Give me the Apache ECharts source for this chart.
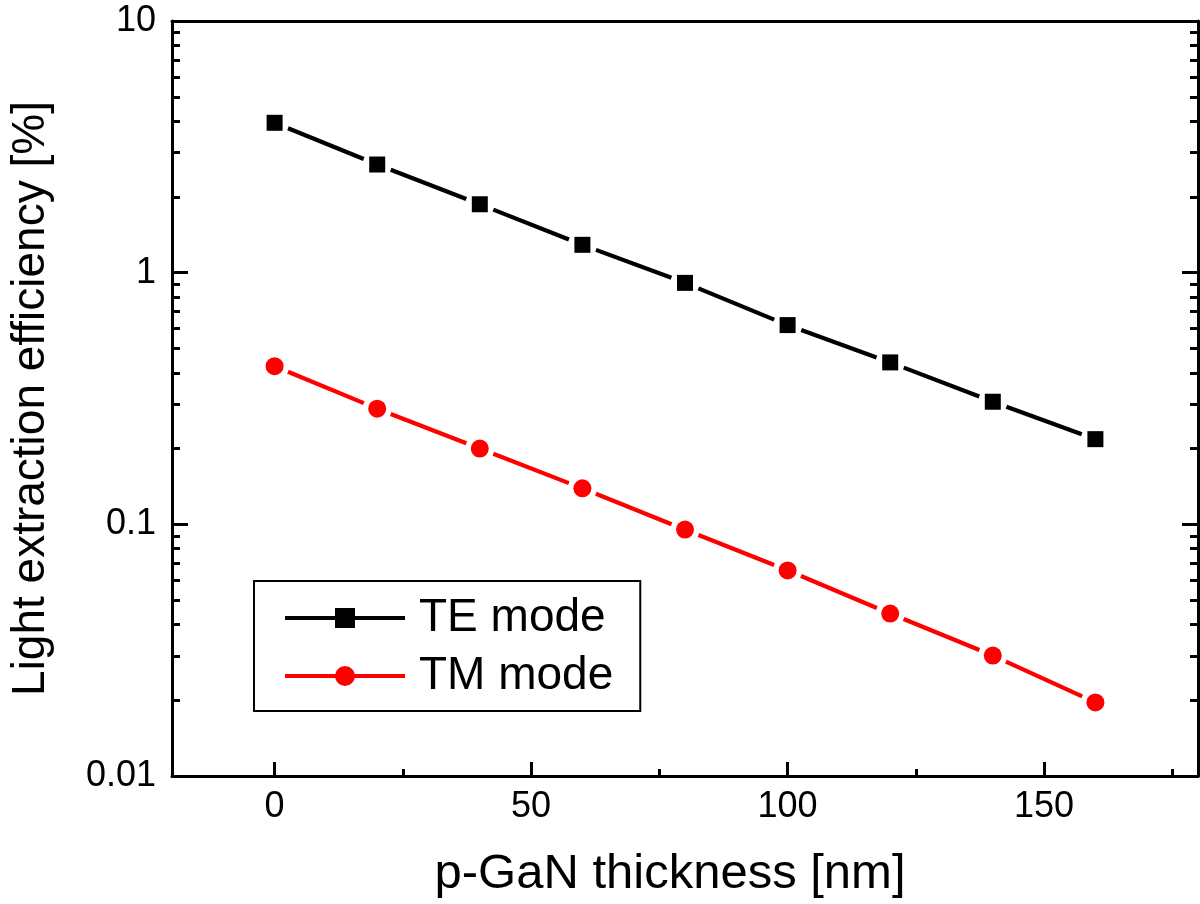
<!DOCTYPE html>
<html>
<head>
<meta charset="utf-8">
<script src="https://cdn.jsdelivr.net/npm/echarts@6/dist/echarts.min.js"></script>
<style>
html,body{margin:0;padding:0;background:#fff;}
#chart{width:1200px;height:904px;}
</style>
</head>
<body>
<div id="chart"></div>
<script>
// ---- data ----
const thickness = [0, 20, 40, 60, 80, 100, 120, 140, 160];
const teMode = [3.94, 2.69, 1.87, 1.29, 0.911, 0.619, 0.44, 0.307, 0.218];
const tmMode = [0.425, 0.288, 0.200, 0.139, 0.0953, 0.0656, 0.0442, 0.0301, 0.0196];
const seriesNames = ['TE mode', 'TM mode'];
const xMajorTicks = [0, 50, 100, 150];
const xMinorTicks = [25, 75, 125, 175];
const yMajorTicks = [0.01, 0.1, 1, 10];
const yMinorTicks = [0.02,0.03,0.04,0.05,0.06,0.07,0.08,0.09,0.2,0.3,0.4,0.5,0.6,0.7,0.8,0.9,2,3,4,5,6,7,8,9];

const FONT = "'Liberation Sans', Arial, Helvetica, sans-serif";
const GAP = 14.5;

function pairs(ys) {
  return thickness.map((x, i) => [x, ys[i]]);
}
function segments(ys) {
  const out = [];
  for (let i = 0; i < thickness.length - 1; i++) out.push([thickness[i], ys[i], thickness[i + 1], ys[i + 1]]);
  return out;
}
function gapLine(color) {
  return function (params, api) {
    const p1 = api.coord([api.value(0), api.value(1)]);
    const p2 = api.coord([api.value(2), api.value(3)]);
    const dx = p2[0] - p1[0], dy = p2[1] - p1[1];
    const L = Math.hypot(dx, dy);
    const ux = dx / L, uy = dy / L;
    return {
      type: 'line',
      shape: { x1: p1[0] + ux * GAP, y1: p1[1] + uy * GAP, x2: p2[0] - ux * GAP, y2: p2[1] - uy * GAP },
      style: { stroke: color, lineWidth: 4.2, lineCap: 'butt' }
    };
  };
}

const axisLineStyle = { color: '#000', width: 3 };
const xBase = { type: 'value', min: -20, max: 180, gridIndex: 0, splitLine: { show: false } };
const yBase = { type: 'log', logBase: 10, min: 0.01, max: 10, gridIndex: 0, splitLine: { show: false } };

const chart = echarts.init(document.getElementById('chart'), null, { renderer: 'canvas' });
chart.setOption({
  backgroundColor: '#fff',
  animation: false,
  grid: { left: 169, right: 2, top: 21, bottom: 125, containLabel: false },
  legend: {
    show: true,
    orient: 'vertical',
    left: 254, top: 581,
    padding: [14, 27, 12, 29],
    borderColor: '#000', borderWidth: 2,
    itemWidth: 120, itemHeight: 25, itemGap: 12,
    selectedMode: false,
    lineStyle: { width: 4, opacity: 1 },
    textStyle: { fontFamily: FONT, fontSize: 46, lineHeight: 46, color: '#000', padding: [0, 0, 0, 9] },
    data: seriesNames.map(n => ({ name: n }))
  },
  xAxis: [
    Object.assign({}, xBase, {
      position: 'bottom',
      name: 'p-GaN thickness [nm]', nameLocation: 'middle', nameGap: 74,
      nameTextStyle: { fontFamily: FONT, fontSize: 49, color: '#000', padding: [0, 30, 0, 0] },
      axisLine: { show: true, onZero: false, lineStyle: axisLineStyle },
      axisTick: { show: true, inside: true, length: 14, lineStyle: { color: '#000', width: 3 }, customValues: xMajorTicks },
      axisLabel: { show: true, customValues: xMajorTicks, margin: 13, fontFamily: FONT, fontSize: 36, color: '#000' }
    }),
    Object.assign({}, xBase, {
      position: 'bottom',
      axisLine: { show: false, onZero: false },
      axisTick: { show: true, inside: true, length: 7, lineStyle: { color: '#000', width: 3 }, customValues: xMinorTicks },
      axisLabel: { show: false }
    }),
    Object.assign({}, xBase, {
      position: 'top',
      axisLine: { show: true, onZero: false, lineStyle: axisLineStyle },
      axisTick: { show: false },
      axisLabel: { show: false }
    })
  ],
  yAxis: [
    Object.assign({}, yBase, {
      position: 'left',
      name: 'Light extraction efficiency [%]', nameLocation: 'middle', nameGap: 118,
      nameTextStyle: { fontFamily: FONT, fontSize: 46, color: '#000' },
      axisLine: { show: true, onZero: false, lineStyle: axisLineStyle },
      axisTick: { show: true, inside: true, length: 16, lineStyle: { color: '#000', width: 3 }, customValues: yMajorTicks },
      axisLabel: { show: true, customValues: yMajorTicks, margin: 16, fontFamily: FONT, fontSize: 36, color: '#000',
        formatter: v => String(+Number(v).toPrecision(3)) }
    }),
    Object.assign({}, yBase, {
      position: 'left',
      axisLine: { show: false, onZero: false },
      axisTick: { show: true, inside: true, length: 8, lineStyle: { color: '#000', width: 3 }, customValues: yMinorTicks },
      axisLabel: { show: false }
    }),
    Object.assign({}, yBase, {
      position: 'right',
      axisLine: { show: true, onZero: false, lineStyle: axisLineStyle },
      axisTick: { show: true, inside: true, length: 16, lineStyle: { color: '#000', width: 3 }, customValues: yMajorTicks },
      axisLabel: { show: false }
    }),
    Object.assign({}, yBase, {
      position: 'right',
      axisLine: { show: false, onZero: false },
      axisTick: { show: true, inside: true, length: 8, lineStyle: { color: '#000', width: 3 }, customValues: yMinorTicks },
      axisLabel: { show: false }
    })
  ],
  series: [
    {
      type: 'custom', name: 'TE line', xAxisIndex: 0, yAxisIndex: 0, silent: true,
      data: segments(teMode), encode: { x: [0, 2], y: [1, 3] },
      renderItem: gapLine('#000000'), z: 2
    },
    {
      type: 'custom', name: 'TM line', xAxisIndex: 0, yAxisIndex: 0, silent: true,
      data: segments(tmMode), encode: { x: [0, 2], y: [1, 3] },
      renderItem: gapLine('#ff0000'), z: 2
    },
    {
      type: 'line', name: seriesNames[0], xAxisIndex: 0, yAxisIndex: 0,
      data: pairs(teMode), symbol: 'rect', symbolSize: 16, showSymbol: true,
      itemStyle: { color: '#000000' },
      lineStyle: { color: '#000000', width: 4, opacity: 0 }, z: 3
    },
    {
      type: 'line', name: seriesNames[1], xAxisIndex: 0, yAxisIndex: 0,
      data: pairs(tmMode), symbol: 'circle', symbolSize: 18, showSymbol: true,
      itemStyle: { color: '#ff0000' },
      lineStyle: { color: '#ff0000', width: 4, opacity: 0 }, z: 3
    }
  ]
});
</script>
</body>
</html>
